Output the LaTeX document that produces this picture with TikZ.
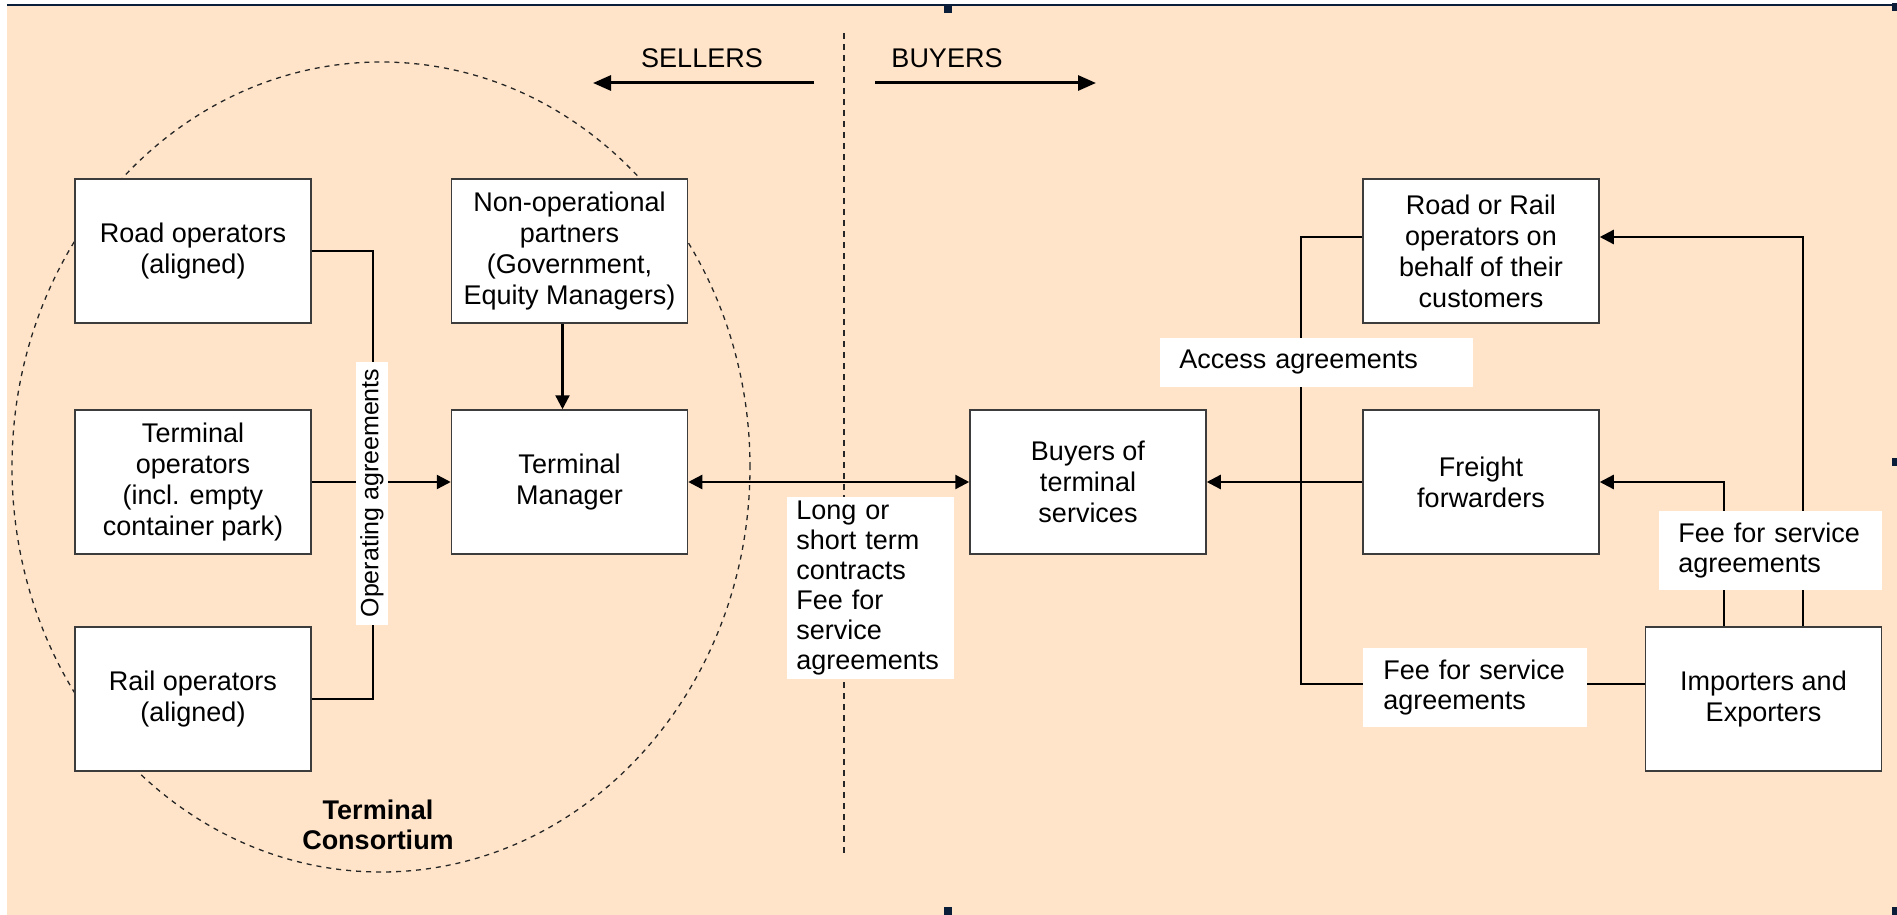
\documentclass[tikz,border=0pt]{standalone}
\usepackage{fontspec}
\setmainfont{Liberation Sans}
\usetikzlibrary{arrows.meta,calc}
\definecolor{peach}{RGB}{255,228,201}
\definecolor{handle}{RGB}{10,30,58}
\definecolor{boxline}{RGB}{60,60,60}

\begin{document}
\begin{tikzpicture}[x=0.5pt,y=-0.5pt,
  font=\fontsize{13.5pt}{15.5pt}\selectfont,
  box/.style={draw=boxline,line width=0.75pt,fill=white,
    minimum width=118pt,minimum height=72pt,align=center,inner sep=1pt},
  lbl/.style={fill=white,align=left,inner ysep=0pt,anchor=west},
  head/.style={Triangle[length=7pt,width=7pt]},
  arr/.style={line width=1.2pt,-{Triangle[length=7pt,width=7pt]}},
  thinline/.style={line width=0.7pt},
  bigarr/.style={line width=1.5pt,-{Triangle[length=9pt,width=7.5pt]}},
  hdl/.style={fill=handle},
]
\useasboundingbox (0,0) rectangle (1897,915);

% page and frame
\fill[peach] (7,5) rectangle (1897,915);
\draw[handle,line width=0.7pt] (7,5) -- (1897,5);

% consortium outline and the seller/buyer divide
\draw[black!85,line width=0.65pt,dash pattern=on 2.5pt off 2.5pt]
  (381,467) ellipse [x radius=184.5pt, y radius=202.5pt];
\coordinate (divtop) at (844,33);
\coordinate (divbot) at (844,857);
\draw[black!85,line width=0.6pt,dash pattern=on 3pt off 2.5pt] (divtop) -- (divbot);

% sides
\node (sellers) at (702,58) {SELLERS};
\node (buyersh) at (947,58) {BUYERS};
\coordinate (sellA) at (814,83);
\coordinate (sellB) at (593,83);
\coordinate (buyA) at (875,83);
\coordinate (buyB) at (1096,83);
\draw[bigarr] (sellA) -- (sellB);
\draw[bigarr] (buyA) -- (buyB);

% boxes
\node[box] (road)     at (193,251)    {Road operators\\(aligned)};
\node[box] (termops)  at (193,482)    {Terminal\\operators\\(incl. empty\\container park)};
\node[box] (rail)     at (193,699)    {Rail operators\\(aligned)};
\node[box] (nonop)    at (569.5,251)  {Non-operational\\partners\\(Government,\\Equity Managers)};
\node[box] (tm)       at (569.5,482)  {Terminal\\Manager};
\node[box] (buyers)   at (1088,482)   {Buyers of\\terminal\\services};
\node[box] (roadrail) at (1481,251)   {Road or Rail\\operators on\\behalf of their\\customers};
\node[box] (freight)  at (1481,482)   {Freight\\forwarders};
\node[box] (imp)      at (1763.5,699) {Importers and\\Exporters};

% operating agreements
\coordinate (opbus) at (373,482);
\draw[thinline] (road.east) -| (opbus) |- (rail.east);
\draw[arr] (termops.east) -- (tm.west);
\draw[arr] ([xshift=-3.5pt]nonop.south) -- ([xshift=-3.5pt]tm.north);

% contracts between terminal manager and buyers
\draw[line width=1.2pt,{Triangle[length=7pt,width=7pt]}-{Triangle[length=7pt,width=7pt]}]
  (tm.east) -- (buyers.west);
\draw[arr] (freight.west) -- (buyers.east);

% access agreements
\coordinate (acccorner) at (1301,684);
\draw[thinline] ([yshift=7pt]roadrail.west) -| (acccorner) -- ([yshift=7.5pt]imp.west);

% fee for service from importers and exporters
\draw[arr] ([xshift=-19.75pt]imp.north) |- (freight.east);
\draw[arr] ([xshift=19.75pt]imp.north) |- ([yshift=7pt]roadrail.east);

% labels
\node[fill=white,rotate=90,minimum width=131.5pt,minimum height=16pt,inner sep=0pt,
  font=\fontsize{12.5pt}{14pt}\selectfont] (oplbl) at (372,493) {Operating agreements};
\node[lbl,inner xsep=4.5pt,text width=74.5pt,minimum height=91pt,
  font=\fontsize{13.5pt}{15pt}\selectfont] (contr) at (787,588)
  {Long or\\short term\\contracts\\Fee for\\service\\agreements};
\node[lbl,inner xsep=9.5pt,text width=137.5pt,minimum height=24.5pt] (acc) at (1160,362.5)
  {Access agreements};
\node[lbl,inner xsep=10pt,text width=92pt,minimum height=39.5pt,
  font=\fontsize{13.5pt}{15pt}\selectfont] (feelow) at (1363,687.5)
  {Fee for service\\agreements};
\node[lbl,inner xsep=9.5pt,text width=92.5pt,minimum height=39.5pt,
  font=\fontsize{13.5pt}{15pt}\selectfont] (feeright) at (1659,550.5)
  {Fee for service\\agreements};

\node[font=\bfseries\fontsize{13.5pt}{15pt}\selectfont,align=center] (cons) at (378,825)
  {Terminal\\Consortium};

% selection handles
\fill[hdl] (944,5) rectangle (952,13);
\fill[hdl] (944,907) rectangle (952,915);
\fill[hdl] (1892,3) rectangle (1897,11);
\fill[hdl] (1892,458) rectangle (1897,466);
\fill[hdl] (1892,907) rectangle (1897,915);
\end{tikzpicture}
\end{document}
